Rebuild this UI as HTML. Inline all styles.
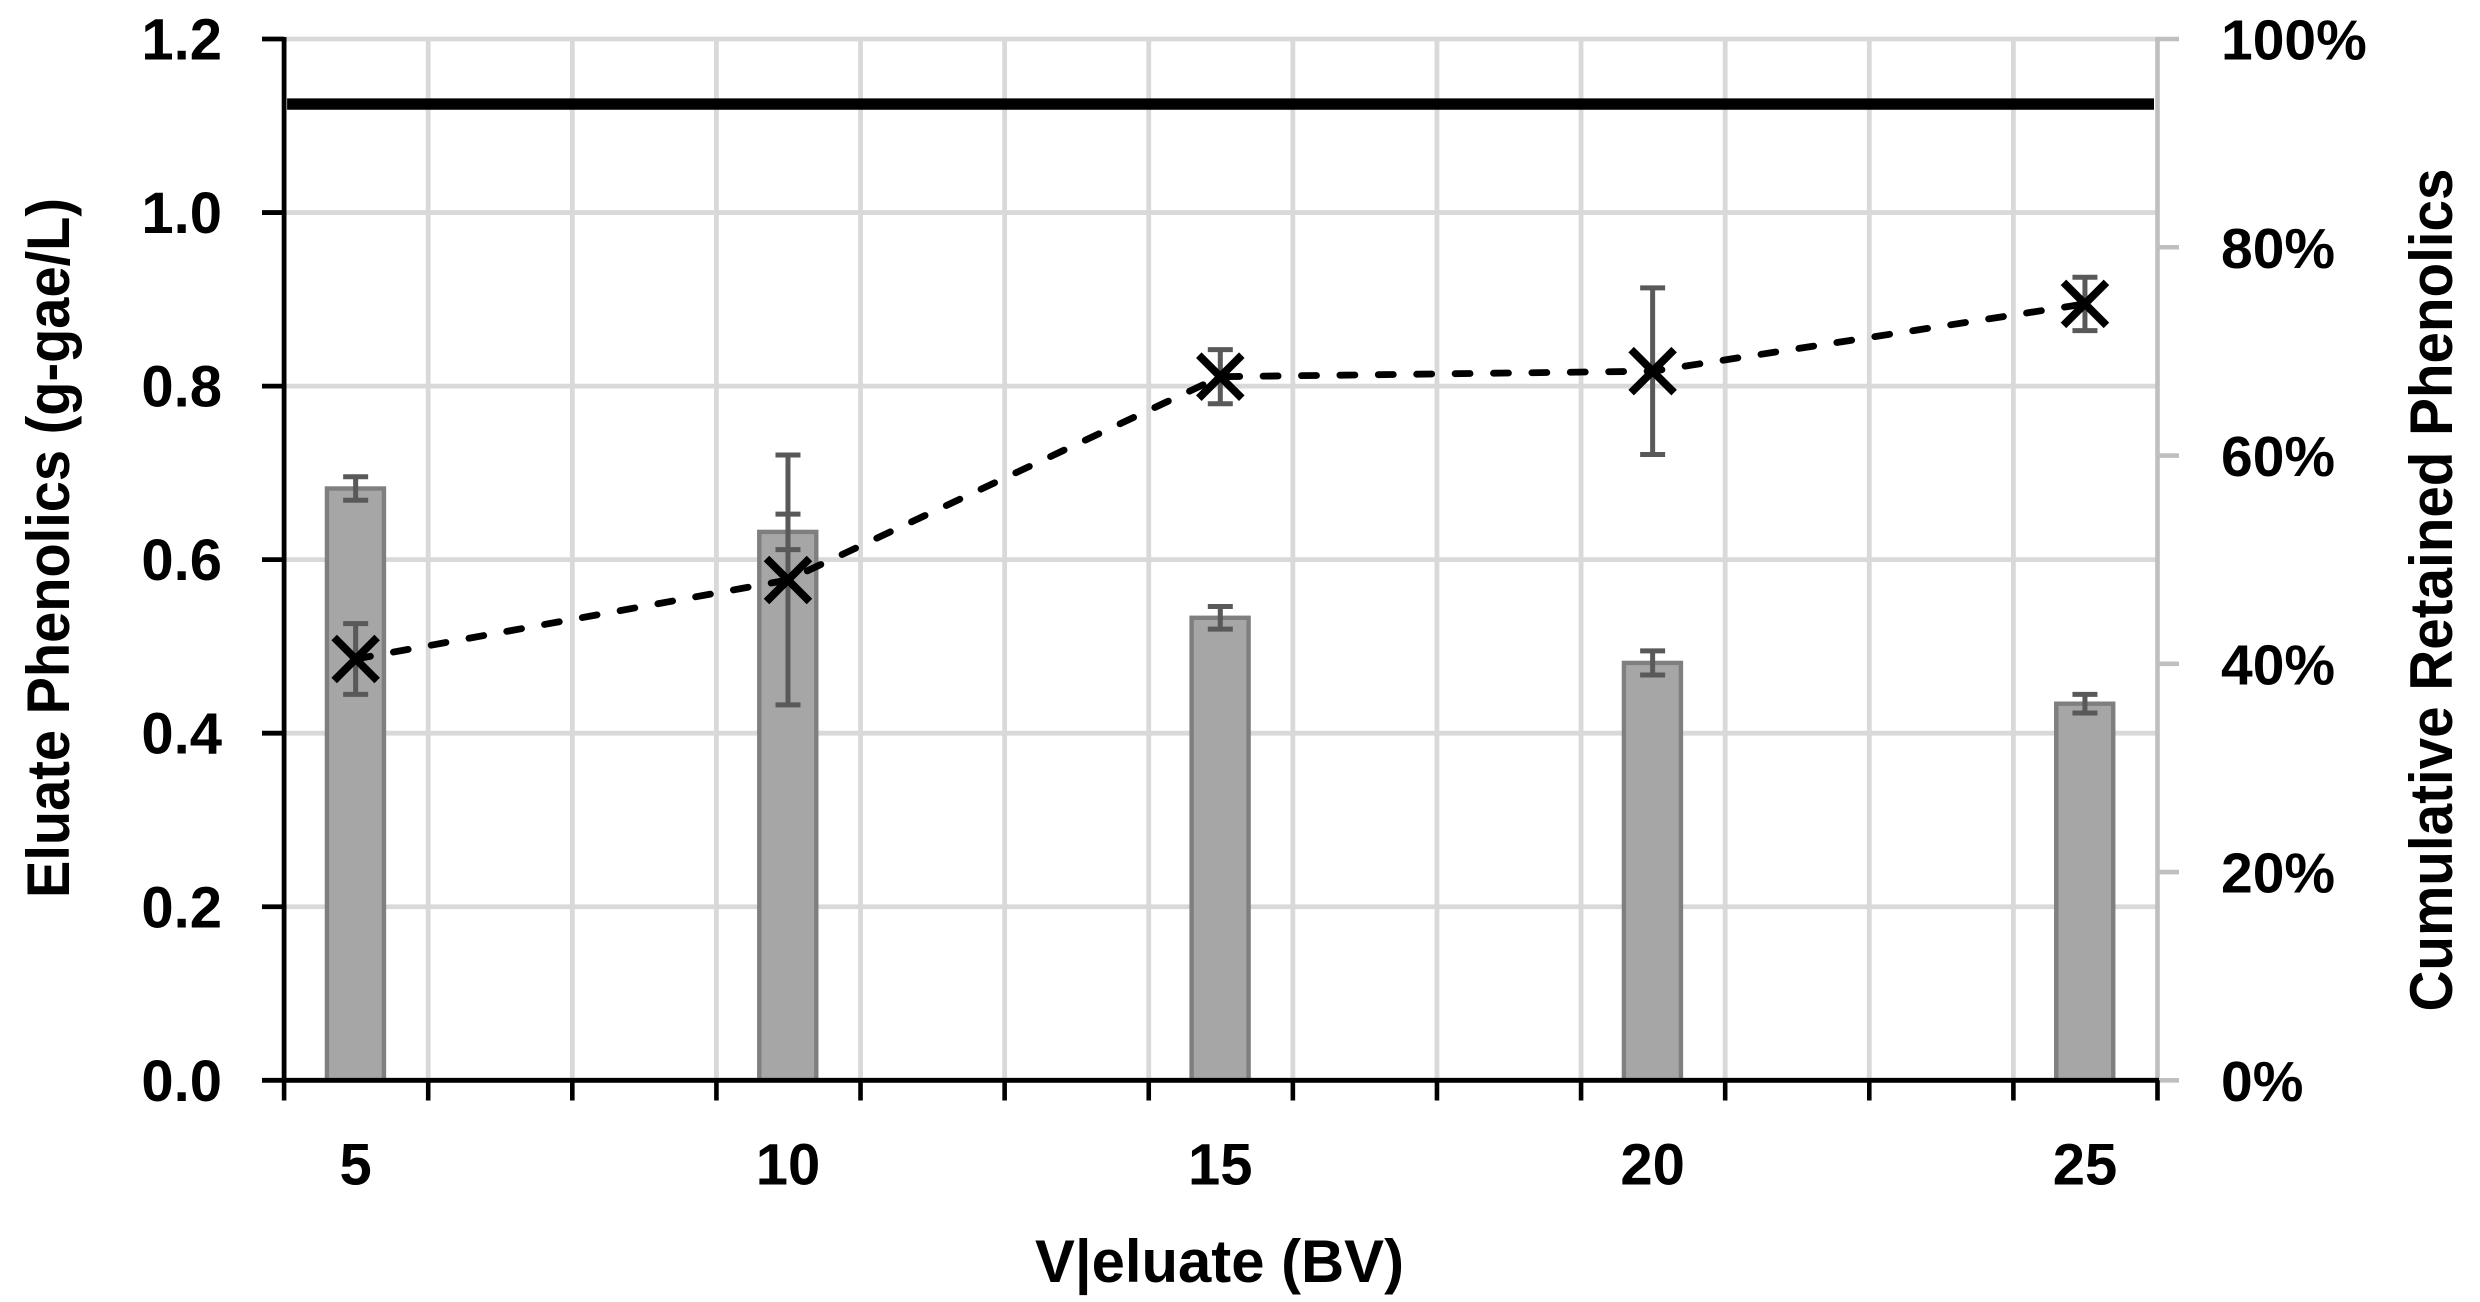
<!DOCTYPE html>
<html lang="en">
<head>
<meta charset="utf-8">
<title>Eluate Phenolics and Cumulative Retained Phenolics</title>
<style>
  html, body { margin: 0; padding: 0; background: #ffffff; }
  body { width: 2480px; height: 1302px; overflow: hidden; }
  svg { display: block; }
  text { font-family: "Liberation Sans", sans-serif; font-weight: 700; fill: #000000; }
</style>
</head>
<body>
<svg id="chart" xmlns="http://www.w3.org/2000/svg" width="2480" height="1302" viewBox="0 0 2480 1302"></svg>
<script>
const categories = [5, 10, 15, 20, 25];
const eluatePhenolics = [0.682, 0.632, 0.533, 0.481, 0.434];
const eluateErrors = [0.0136, 0.0205, 0.013, 0.0139, 0.0107];
const retainedPhenolics = [0.4046, 0.4805, 0.6757, 0.681, 0.7456];
const retainedErrors = [0.034, 0.12, 0.026, 0.08, 0.0256];
const referenceLevel = 1.125;
const leftTicks = [0, 0.2, 0.4, 0.6, 0.8, 1.0, 1.2];
const leftTickLabels = ['0.0', '0.2', '0.4', '0.6', '0.8', '1.0', '1.2'];
const rightTicks = [0, 0.2, 0.4, 0.6, 0.8, 1.0];
const rightTickLabels = ['0%', '20%', '40%', '60%', '80%', '100%'];
const slotCount = 13;
const slotsPerCategory = 3;

const NS = 'http://www.w3.org/2000/svg';
const svg = document.getElementById('chart');
const plotLeft = 284.1, plotRight = 2157.5, plotTop = 39, plotBottom = 1080.3;
const slotWidth = (plotRight - plotLeft) / slotCount;

function xSlot(i) { return plotLeft + i * slotWidth; }
function xCategory(v) {
  const step = categories[1] - categories[0];
  return xSlot(0.5 + (v - categories[0]) / step * slotsPerCategory);
}
function yLeft(v) { return plotBottom - v / 1.2 * (plotBottom - plotTop); }
function yRight(v) { return plotBottom - v * (plotBottom - plotTop); }

function add(tag, name, attrs, parent, text) {
  const el = document.createElementNS(NS, tag);
  
  
  for (const k in attrs) el.setAttribute(k, attrs[k]);
  if (text !== undefined) el.textContent = text;
  (parent || svg).appendChild(el);
  return el;
}
function seg(name, x1, y1, x2, y2, color, w, parent) {
  return add('line', name, { x1, y1, x2, y2, stroke: color, 'stroke-width': w }, parent);
}

/* gridlines */
const grid = add('g', 'gridlines', {});
leftTicks.forEach(function (t, i) {
  seg('horizontal-gridline-' + leftTickLabels[i], plotLeft, yLeft(t), plotRight, yLeft(t), '#d9d9d9', 4.8, grid);
});
for (let i = 1; i < slotCount; i++) {
  seg('vertical-gridline-' + i, xSlot(i), plotTop, xSlot(i), plotBottom, '#d9d9d9', 4.8, grid);
}

/* right axis */
const rightAxis = add('g', 'right-axis', {});
seg('right-axis-line', plotRight, plotTop - 2, plotRight, plotBottom, '#bfbfbf', 4.6, rightAxis);
rightTicks.forEach(function (t, i) {
  const y = yRight(t);
  seg('right-tick-' + rightTickLabels[i], plotRight, y, plotRight + 21.5, y, '#bfbfbf', 4.6, rightAxis);
  add('text', 'right-tick-label-' + rightTickLabels[i], { x: 2221, y: y + 20.5, 'font-size': 57 }, rightAxis, rightTickLabels[i]);
});

/* bars */
const bars = add('g', 'eluate-bars', {});
const barWidth = 57;
eluatePhenolics.forEach(function (v, i) {
  const cx = xCategory(categories[i]) - 0.7;
  add('rect', 'bar-' + categories[i], {
    x: cx - barWidth / 2, y: yLeft(v), width: barWidth, height: plotBottom - yLeft(v),
    fill: '#a6a6a6', stroke: '#7f7f7f', 'stroke-width': 4.4
  }, bars);
});

/* reference line */
seg('reference-line', plotLeft + 3, yLeft(referenceLevel), plotRight - 3.5, yLeft(referenceLevel), '#000000', 11.4);

/* error bars */
const capHalf = 12.5;
function errorBar(name, cx, yHigh, yLow, parent) {
  const g = add('g', name, {}, parent);
  seg(name + '-stem', cx, yHigh, cx, yLow, '#595959', 5, g);
  seg(name + '-top-cap', cx - capHalf, yHigh, cx + capHalf, yHigh, '#595959', 5, g);
  seg(name + '-bottom-cap', cx - capHalf, yLow, cx + capHalf, yLow, '#595959', 5, g);
}
const barErrors = add('g', 'bar-error-bars', {});
eluatePhenolics.forEach(function (v, i) {
  errorBar('bar-error-' + categories[i], xCategory(categories[i]) - 0.5, yLeft(v + eluateErrors[i]), yLeft(v - eluateErrors[i]), barErrors);
});
const lineErrors = add('g', 'retained-error-bars', {});
retainedPhenolics.forEach(function (v, i) {
  errorBar('retained-error-' + categories[i], xCategory(categories[i]) - 0.5, yRight(v + retainedErrors[i]), yRight(v - retainedErrors[i]), lineErrors);
});

/* dashed series */
const pts = retainedPhenolics.map(function (v, i) {
  return (xCategory(categories[i]) - 0.5) + ',' + yRight(v);
}).join(' ');
add('polyline', 'retained-phenolics-line', {
  points: pts, fill: 'none', stroke: '#000000', 'stroke-width': 6.8,
  'stroke-dasharray': '15 23.4', 'stroke-dashoffset': '0', 'stroke-linecap': 'round', 'stroke-linejoin': 'round'
});

/* markers */
const markers = add('g', 'retained-markers', {});
const mk = 21.5;
retainedPhenolics.forEach(function (v, i) {
  const cx = xCategory(categories[i]) - 0.5, cy = yRight(v);
  const g = add('g', 'retained-marker-' + categories[i], {}, markers);
  seg('marker-stroke-a', cx - mk, cy - mk, cx + mk, cy + mk, '#000000', 7.8, g);
  seg('marker-stroke-b', cx - mk, cy + mk, cx + mk, cy - mk, '#000000', 7.8, g);
});

/* left + bottom axes */
const leftAxis = add('g', 'left-axis', {});
seg('left-axis-line', plotLeft, plotTop - 2, plotLeft, plotBottom + 2, '#000000', 4.8, leftAxis);
leftTicks.forEach(function (t, i) {
  const y = yLeft(t);
  seg('left-tick-' + leftTickLabels[i], 262, y, plotLeft, y, '#000000', 4.8, leftAxis);
  add('text', 'left-tick-label-' + leftTickLabels[i], { x: 222, y: y + 20.5, 'font-size': 58, 'text-anchor': 'end' }, leftAxis, leftTickLabels[i]);
});
const bottomAxis = add('g', 'x-axis', {});
seg('x-axis-line', plotLeft, plotBottom, plotRight + 1.5, plotBottom, '#000000', 4.8, bottomAxis);
for (let i = 0; i <= slotCount; i++) {
  seg('x-tick-' + i, xSlot(i), plotBottom, xSlot(i), 1100.5, '#000000', 4.6, bottomAxis);
}
categories.forEach(function (c) {
  add('text', 'x-tick-label-' + c, { x: xCategory(c) - 0.5, y: 1184.5, 'font-size': 58, 'text-anchor': 'middle' }, bottomAxis, String(c));
});

/* axis titles */
add('text', 'x-axis-title', { x: 1035, y: 1282, 'font-size': 60, textLength: 369, lengthAdjust: 'spacingAndGlyphs' }, svg, 'V|eluate (BV)');
add('text', 'left-axis-title', { transform: 'translate(69 898) rotate(-90)', 'font-size': 60, textLength: 700, lengthAdjust: 'spacingAndGlyphs' }, svg, 'Eluate Phenolics (g-gae/L)');
add('text', 'right-axis-title', { transform: 'translate(2452 1011.5) rotate(-90)', 'font-size': 60, textLength: 843, lengthAdjust: 'spacingAndGlyphs' }, svg, 'Cumulative Retained Phenolics');
</script>
</body>
</html>
